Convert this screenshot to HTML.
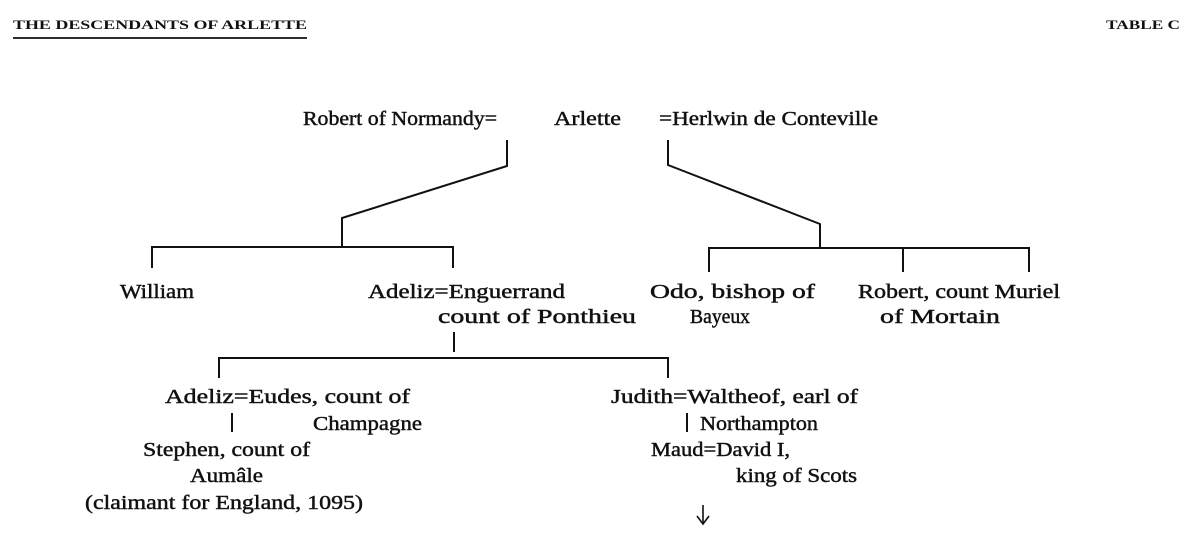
<!DOCTYPE html>
<html><head><meta charset="utf-8"><style>
html,body{margin:0;padding:0;background:#fff;}
svg{display:block;}
text{font-family:"Liberation Serif",serif;font-size:20px;fill:#111;stroke:#111;stroke-width:0.45;}
.h{font-size:12.5px;font-weight:bold;stroke-width:0;}
</style></head><body>
<svg width="1200" height="540" viewBox="0 0 1200 540" xmlns="http://www.w3.org/2000/svg">
<g stroke="#111" stroke-width="2" fill="none">
<line x1="13" y1="38" x2="307" y2="38" stroke-width="1.8"/>
<polyline points="507,140 507,166 342,218 342,247"/>
<polyline points="668,140 668,165 820,224 820,247"/>
<polyline points="152,268 152,247 453,247 453,268"/>
<polyline points="709,272 709,248 1029,248 1029,272"/>
<line x1="903" y1="248" x2="903" y2="272"/>
<line x1="454" y1="332" x2="454" y2="352"/>
<polyline points="219,378 219,358 668,358 668,378"/>
<line x1="232" y1="413" x2="232" y2="432"/>
<line x1="687" y1="413" x2="687" y2="432"/>
<line x1="703" y1="505" x2="703" y2="523" stroke-width="1.6"/>
<polyline points="697,516 703,524 709,516" stroke-width="1.6"/>
</g>
<text class="h" x="13" y="29" textLength="294" lengthAdjust="spacingAndGlyphs">THE DESCENDANTS OF ARLETTE</text>
<text class="h" x="1106" y="29" textLength="74" lengthAdjust="spacingAndGlyphs">TABLE C</text>
<text x="303" y="125" textLength="194" lengthAdjust="spacingAndGlyphs">Robert of Normandy=</text>
<text x="554" y="125" textLength="67" lengthAdjust="spacingAndGlyphs">Arlette</text>
<text x="659" y="125" textLength="219" lengthAdjust="spacingAndGlyphs">=Herlwin de Conteville</text>
<text x="120" y="298" textLength="74" lengthAdjust="spacingAndGlyphs">William</text>
<text x="368" y="298" textLength="197" lengthAdjust="spacingAndGlyphs">Adeliz=Enguerrand</text>
<text x="438" y="323" textLength="198" lengthAdjust="spacingAndGlyphs">count of Ponthieu</text>
<text x="650" y="298" textLength="165" lengthAdjust="spacingAndGlyphs">Odo, bishop of</text>
<text x="690" y="323" textLength="60" lengthAdjust="spacingAndGlyphs">Bayeux</text>
<text x="858" y="298" textLength="202" lengthAdjust="spacingAndGlyphs">Robert, count Muriel</text>
<text x="880" y="323" textLength="120" lengthAdjust="spacingAndGlyphs">of Mortain</text>
<text x="165" y="403" textLength="245" lengthAdjust="spacingAndGlyphs">Adeliz=Eudes, count of</text>
<text x="313" y="430" textLength="109" lengthAdjust="spacingAndGlyphs">Champagne</text>
<text x="143" y="456" textLength="167" lengthAdjust="spacingAndGlyphs">Stephen, count of</text>
<text x="190" y="482" textLength="73" lengthAdjust="spacingAndGlyphs">Aumâle</text>
<text x="85" y="509" textLength="278" lengthAdjust="spacingAndGlyphs">(claimant for England, 1095)</text>
<text x="611" y="403" textLength="247" lengthAdjust="spacingAndGlyphs">Judith=Waltheof, earl of</text>
<text x="700" y="430" textLength="118" lengthAdjust="spacingAndGlyphs">Northampton</text>
<text x="651" y="456" textLength="139" lengthAdjust="spacingAndGlyphs">Maud=David I,</text>
<text x="736" y="482" textLength="121" lengthAdjust="spacingAndGlyphs">king of Scots</text>
</svg>
</body></html>
